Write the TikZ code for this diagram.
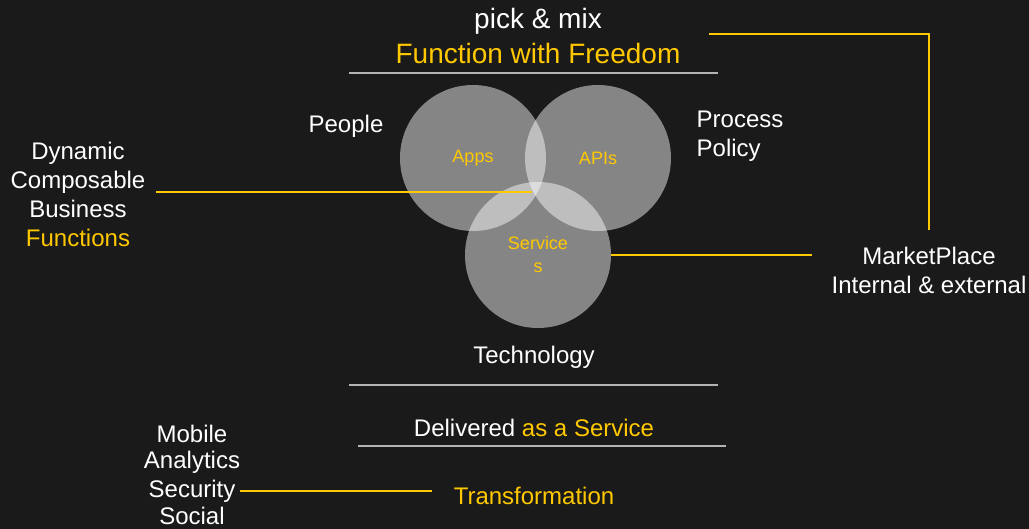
\documentclass[tikz,border=0pt]{standalone}
\usepackage{fontspec}
\setmainfont{Liberation Sans}
\definecolor{bg}{HTML}{1A1A1A}
\definecolor{gold}{HTML}{FFC800}
\definecolor{rulegray}{HTML}{B4B4B4}

\begin{document}
\begin{tikzpicture}[x=1pt,y=-1pt,
    big/.style={text=white,font=\fontsize{28}{32}\selectfont},
    txt/.style={text=white,font=\fontsize{24}{29}\selectfont,align=center},
    blob/.style={circle,fill=white,fill opacity=0.47,text opacity=1,minimum size=146pt,inner sep=0pt,
      text=gold,font=\fontsize{18}{23}\selectfont,align=center},
    link/.style={draw=gold,line width=2pt},
    hrule/.style={draw=rulegray,line width=2.5pt}]

      \fill[bg] (0,0) rectangle (1029,529);
      \useasboundingbox (0,0) rectangle (1029,529);

      \node[big] (pick) at (538,21) {pick \& mix};
      \node[big,text=gold] (fwf) at (538,53) {Function with Freedom};
      \draw[hrule] (349,73) -- (718,73);

      \node[blob] (apps) at (473,158) {Apps};
      \node[blob] (apis) at (598,158) {APIs};
      \node[blob] (svc) at (538,255) {Service\\s};

      \node[txt] (people) at (346,126) {People};
      \node[txt,align=left] (proc) at (740,136) {Process\\Policy};
      \node[txt] (dyn) at (78,194) {Dynamic\\Composable\\Business\\\textcolor{gold}{Functions}};
      \node[txt] (mkt) at (929,270) {MarketPlace\\Internal \& external};
      \node[txt] (tech) at (534,357) {Technology};

      \draw[hrule] (349,385) -- (718,385);
      \node[txt] (das) at (534,428) {Delivered \textcolor{gold}{as a Service}};
      \draw[hrule] (358,446) -- (726,446);

      \node[txt] (mobile) at (192,434) {Mobile};
      \node[txt] (analytics) at (192,462) {Analytics};
      \node[txt] (security) at (192,491) {Security};
      \node[txt] (social) at (192,516) {Social};
      \node[txt,text=gold] (trans) at (534,496) {Transformation};

      \coordinate (core) at (532,192);
      \coordinate (tap) at (709,34);

      \draw[link,shorten <=7pt] (dyn.east |- core) -- (core);
      \draw[link,shorten >=16pt] (svc.east) -- (svc.east -| mkt.west);
      \draw[link] (tap) -| ([yshift=13pt]mkt.north);
      \draw[link,shorten <=1pt,shorten >=18pt] (security.east) -- (security.east -| trans.west);
    \end{tikzpicture}
\end{document}
